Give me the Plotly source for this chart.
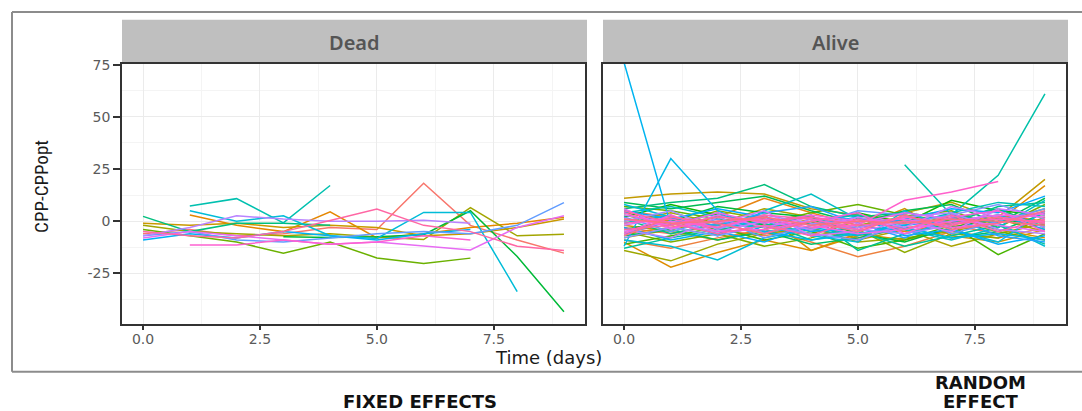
import math
import plotly.graph_objects as go

# ---------------- data ----------------
days = [0, 1, 2, 3, 4, 5, 6, 7, 8, 9]
panels = ["Dead", "Alive"]
x_ticks = [0, 2.5, 5, 7.5]
x_tick_labels = ["0.0", "2.5", "5.0", "7.5"]
y_ticks = [-25, 0, 25, 50, 75]
y_tick_labels = ["-25", "0", "25", "50", "75"]
x_title = "Time (days)"
y_title = "CPP-CPPopt"
caption_left = "FIXED EFFECTS"
caption_right = ["RANDOM", "EFFECT"]

N = None
dead_series = [
    [-6, -4, -7, -6, -3, -4, 18.2, -2, -9, -15.3],
    [N, 3, -2, -5, 4.5, -8, -6, -3, -1, 1.9],
    [-1, -2, -1, -3, -2, -3, -7, -6, -3, 1],
    [-2, -5, -6, -7, -6, -7.6, -8.8, 6.5, -7, -6.3],
    [-4, -7, -10, -15.3, -10, -17.6, -20.3, -17.7, N, N],
    [N, N, N, -7.5, -7.8, -7.5, -6.5, 5, -16.9, -43.4],
    [2.3, -5, -1, -1, -2, N, N, N, N, N],
    [N, 7.3, 10.8, -0.8, 17.1, N, N, N, N, N],
    [N, 5, 0, 2.6, -7, -8.3, 4.2, 4.2, -33.7, N],
    [-9, -6, -8, -5, -7, -9, -6, -4, N, N],
    [-7, -5, -9, -10, -8, -6, -5, -6, -2, 8.9],
    [-7, -3, 2.6, 1, 0, 0, 0.5, -1, N, N],
    [-8, -5, -7, -9, -11, -10, -12, -13.8, -3, 2.6],
    [N, -11.4, -11.4, -9, -11, -10, -7, -9, N, N],
    [-5, -7, -8, -5, 0.3, 5.8, -2, -5, -12, -14],
]

alive_series = [
    [-3, -6, -2, 1, -4, -8, -3, -1, 2, 4],
    [5, 2, -4, -7, -3, 1, 3, -2, -6, -1],
    [-9, -13, -8, -4, -10, -17, -12, -5, -8, -3],
    [-6, -3, 2, 11, 4, -2, -5, -1, 3, 0],
    [-10, -22, -15, -9, -14, -6, -9, -4, 0, 17],
    [4, 0, -2, 3, -14, -7, -2, 2, -4, -8],
    [-2, -5, -9, -4, 1, -3, 6, -7, -10, -4],
    [11, 13, 14, 13, 6, 3, 0, -3, 2, 20],
    [-8, -4, 0, -3, -6, 0, 4, 9, 1, -5],
    [0, 4, -1, 6, 2, -9, -4, -12, -6, -1],
    [-14, -19, -11, -6, -3, -10, -8, -5, 0, 6],
    [3, -2, 5, 1, -7, -4, -15, -6, -8, 2],
    [-5, -10, -6, -12, -8, -2, 2, 5, -3, 8],
    [7, 5, 1, -1, 4, 8, 3, 0, -5, -9],
    [-11, -7, -3, -9, -5, -13, -9, -2, -16, -6],
    [2, 8, 3, -2, -1, 4, -1, 10, 5, 3],
    [-4, 0, 7, 4, 2, -6, -10, -3, 1, -2],
    [9, 6, 9, 12, 5, -1, 5, 8, -1, 11],
    [-7, -4, -9, -5, -11, -8, -3, -8, -5, 4],
    [6, 9, 11, 17.5, 7, 2, 4, 1, 6, -3],
    [1, -6, -1, -3, 3, -14, -6, -1, 7, 9],
    [-13, -8, -4, -1, -9, -5, -12, -7, -2, -11],
    [N, N, N, N, N, N, 27, 3, 22, 61],
    [4, 7, 2, -6, 0, 3, -2, 4, 9, 7],
    [-1, 3, -7, 5, 13, 1, -4, -9, -3, 10],
    [-9, -12, -18.6, -8, -4, -7, 0, 3, -1, -12],
    [8, 2, -3, 0, -7, -10, 5, -4, -10, 5],
    [-12, 30, 5, -5, -9, -6, -3, -8, -6, -9],
    [76, -2, 4, -5, -3, -6, -2, 0, 3, -4],
    [-3, -9, -5, -10, -2, 2, -7, -4, -11, -7],
    [5, 1, 6, 2, -5, -3, 1, 6, 4, 12],
    [-6, 0, -2, 4, 7, -1, -8, 2, -7, -10],
    [2, -5, 1, -8, -2, 5, 3, -6, 0, 6],
    [-8, -3, -7, -2, -6, -9, -1, 3, 8, 1],
    [0, 5, -4, 3, -1, -4, -6, -2, 5, -3],
    [-4, -8, 2, -6, 1, -3, 2, 4, -4, -6],
    [3, -1, -5, 0, -4, 2, -3, 7, 2, -1],
    [-2, 2, -1, 5, -7, -5, 0, -5, 6, 3],
    [6, -4, 3, -3, 2, -1, 4, 1, -2, -5],
    [-5, 0, -3, 2, -2, -6, -4, 0, 3, 2],
    [1, -2, 4, -1, 3, 0, 1, -3, -1, 4],
    [-6, 3, -5, -4, 0, 4, -6, 2, 5, -5],
    [4, -3, 0, 1, -3, -2, 10, 14, 19, N],
    [-1, 1, -3, 3, 1, -4, 2, -1, 1, 0],
    [5, -1, -6, -2, -7, 1, -4, 3, -5, 1],
    [-4, -2, 2, 0, 2, -2, 0, -2, 2, -1],
    [-7, 2, -1, -6, 0, -5, 3, -4, -1, 5],
    [1, -1, 0, 2, -2, 0, -1, 1, 0, -2],
]


# ---------------- helpers ----------------
def hcl(h, c=100.0, l=65.0):
    hr = math.radians(h)
    U, V = c * math.cos(hr), c * math.sin(hr)
    Xn, Yn, Zn = 95.047, 100.0, 108.883
    Y = Yn * ((l + 16) / 116) ** 3
    t = Xn + 15 * Yn + 3 * Zn
    un, vn = 4 * Xn / t, 9 * Yn / t
    u = U / (13 * l) + un
    v = V / (13 * l) + vn
    X = 9 * Y * u / (4 * v)
    Z = -X / 3 - 5 * Y + 3 * Y / v
    X, Y, Z = X / 100, Y / 100, Z / 100
    r = 3.240479 * X - 1.537150 * Y - 0.498535 * Z
    g = -0.969256 * X + 1.875992 * Y + 0.041556 * Z
    b = 0.055648 * X - 0.204043 * Y + 1.057311 * Z

    def gam(cc):
        cc = 12.92 * cc if cc <= 0.0031308 else 1.055 * cc ** (1 / 2.4) - 0.055
        return int(round(255 * min(1, max(0, cc))))

    return "#%02X%02X%02X" % (gam(r), gam(g), gam(b))


def hue_pal(n):
    return [hcl(15 + 360 * i / n) for i in range(n)]


W, H = 1082, 411


def fx(px):
    return px / W


def fy(py):
    return 1 - py / H


fig = go.Figure()

for series, xa, ya in [(dead_series, "x", "y"), (alive_series, "x2", "y2")]:
    cols = hue_pal(len(series))
    for vals, col in zip(series, cols):
        fig.add_trace(go.Scatter(
            x=days, y=vals, mode="lines", xaxis=xa, yaxis=ya,
            line=dict(color=col, width=1.5), showlegend=False,
            hoverinfo="skip", connectgaps=False,
        ))

tick_font = dict(family="DejaVu Sans", size=14, color="#5a5a5a")
grid_major = "#EBEBEB"
grid_minor = "#F4F4F4"
border = "#333333"

y_dom = [fy(323), fy(58)]
x_range = [-0.45, 9.45]
y_range = [-49.5, 75.3]

common_x = dict(
    range=x_range, tickvals=x_ticks, ticktext=x_tick_labels, tickfont=tick_font,
    ticks="outside", ticklen=4, tickwidth=1.5, tickcolor=border, ticklabelstandoff=-3,
    showline=True, mirror=True, linecolor=border, linewidth=1.5,
    showgrid=True, gridcolor=grid_major, gridwidth=1.1, zeroline=False,
    minor=dict(tick0=0, dtick=1.25, showgrid=True, gridcolor=grid_minor, gridwidth=0.7, ticklen=0),
    fixedrange=True,
)
common_y = dict(
    range=y_range, tickvals=y_ticks, ticktext=y_tick_labels, tickfont=tick_font,
    showline=True, mirror=True, linecolor=border, linewidth=1.5,
    showgrid=True, gridcolor=grid_major, gridwidth=1.1, zeroline=False,
    minor=dict(tick0=0, dtick=12.5, showgrid=True, gridcolor=grid_minor, gridwidth=0.7, ticklen=0),
    fixedrange=True,
)

fig.update_layout(
    width=W, height=H, margin=dict(l=0, r=0, t=0, b=0),
    paper_bgcolor="white", plot_bgcolor="white", showlegend=False,
    xaxis=dict(domain=[fx(122), fx(585)], anchor="y", **common_x),
    xaxis2=dict(domain=[fx(603), fx(1066)], anchor="y2", **common_x),
    yaxis=dict(domain=y_dom, anchor="x", ticks="outside", ticklen=7, tickwidth=1.5,
               tickcolor=border, **common_y),
    yaxis2=dict(domain=y_dom, anchor="x2", ticks="", showticklabels=False, **common_y),
)

shapes = []
# strips
for (x0, x1) in [(122, 587), (603, 1068)]:
    shapes.append(dict(type="rect", xref="paper", yref="paper", x0=fx(x0), x1=fx(x1),
                       y0=fy(58), y1=fy(13), fillcolor="#BFBFBF", line=dict(width=0), layer="below"))
# outer frame
frame = "#8C8C8C"
shapes.append(dict(type="line", xref="paper", yref="paper", x0=fx(12), x1=1.0, y0=fy(5), y1=fy(5),
                   line=dict(color=frame, width=2)))
shapes.append(dict(type="line", xref="paper", yref="paper", x0=fx(12), x1=fx(12), y0=fy(5), y1=fy(371),
                   line=dict(color=frame, width=2)))
shapes.append(dict(type="line", xref="paper", yref="paper", x0=fx(12), x1=1.0, y0=fy(371), y1=fy(371),
                   line=dict(color=frame, width=2)))
fig.update_layout(shapes=shapes)

ann = []
for name, cx in zip(panels, [(122 + 587) / 2, (603 + 1068) / 2]):
    ann.append(dict(text=name, x=fx(cx), y=fy(36), xref="paper", yref="paper", showarrow=False,
                    xanchor="center", yanchor="middle",
                    font=dict(family="Noto Sans", size=20, color="#555555", weight=600)))
ann.append(dict(text=x_title, x=fx(548), y=fy(357), xref="paper", yref="paper", showarrow=False,
                xanchor="center", yanchor="middle",
                font=dict(family="DejaVu Sans", size=18, color="#1a1a1a")))
ann.append(dict(text=y_title, x=fx(42), y=fy(183), xref="paper", yref="paper", showarrow=False,
                xanchor="center", yanchor="middle", textangle=-90,
                font=dict(family="Liberation Sans Narrow, Roboto Condensed, sans-serif", size=19, color="#1a1a1a")))
cap_font = dict(family="DejaVu Sans", size=18, color="#111111")
ann.append(dict(text="<b>%s</b>" % caption_left, x=fx(420), y=fy(401), xref="paper", yref="paper",
                showarrow=False, xanchor="center", yanchor="middle", font=cap_font))
for line_text, cy in zip(caption_right, [382, 401]):
    ann.append(dict(text="<b>%s</b>" % line_text, x=fx(980), y=fy(cy), xref="paper", yref="paper",
                    showarrow=False, xanchor="center", yanchor="middle", font=cap_font))
fig.update_layout(annotations=ann)

fig.write_html("out.html", config={"displayModeBar": False},
               post_script="document.body.style.margin='0';document.body.style.overflow='hidden';")
